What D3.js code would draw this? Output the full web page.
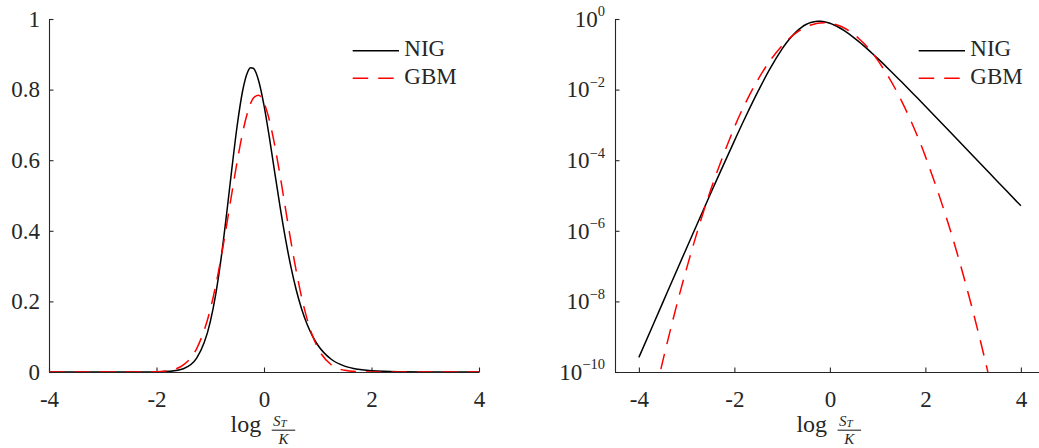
<!DOCTYPE html>
<html><head><meta charset="utf-8">
<script src="https://cdn.jsdelivr.net/npm/d3@7"></script>
<style>
html,body{margin:0;padding:0;background:#fff;}
svg{display:block;font-family:'Liberation Serif','Times New Roman',serif;}
</style></head><body>
<svg id="chart" width="1039" height="448"></svg>
<script>
// x: log(S_T/K)
const logReturn = [-4, -3.5, -3, -2.5, -2, -1.75, -1.5, -1.25, -1, -0.9, -0.8, -0.7, -0.6, -0.5, -0.4, -0.3, -0.25, -0.2, -0.1, 0, 0.1, 0.2, 0.3, 0.4, 0.5, 0.6, 0.7, 0.8, 0.9, 1, 1.25, 1.5, 1.75, 2, 2.5, 3, 3.5, 4];
const nigDensity = [2.59e-10, 9.25e-9, 3.27e-7, 1.12e-5, 3.54e-4, 1.876e-3, 9.19e-3, 0.0398, 0.1419, 0.2188, 0.3200, 0.4419, 0.5731, 0.6969, 0.7946, 0.8512, 0.8618, 0.8604, 0.8251, 0.7553, 0.6644, 0.5650, 0.4670, 0.3770, 0.2984, 0.2324, 0.1786, 0.1358, 0.1023, 0.0765, 0.0361, 0.0166, 7.53e-3, 3.38e-3, 6.70e-4, 1.318e-4, 2.59e-5, 5.09e-6];
const gbmDensity = [1.82e-13, 2.03e-10, 8.63e-8, 1.393e-5, 8.55e-4, 4.66e-3, 0.01995, 0.0670, 0.1769, 0.2436, 0.3229, 0.4116, 0.5049, 0.5957, 0.6762, 0.7384, 0.7606, 0.7758, 0.7841, 0.7624, 0.7132, 0.6418, 0.5556, 0.4627, 0.3708, 0.2858, 0.2119, 0.1512, 0.1038, 0.0685, 0.0205, 4.81e-3, 8.87e-4, 1.284e-4, 1.302e-6, 5.02e-9, 7.34e-12, 4.08e-15];
const seriesNames = ["NIG", "GBM"];
const xTicks = [-4, -2, 0, 2, 4];
const xTickLabels = ["-4", "-2", "0", "2", "4"];
const yTicksLinear = [0, 0.2, 0.4, 0.6, 0.8, 1];
const yTickLinearLabels = ["0", "0.2", "0.4", "0.6", "0.8", "1"];
const yTicksLog = [1e-10, 1e-8, 1e-6, 1e-4, 1e-2, 1];
const yTickLogExponents = ["\u221210", "\u22128", "\u22126", "\u22124", "\u22122", "0"];

const nigData = logReturn.map((x, i) => ({x, y: nigDensity[i]}));
const gbmData = logReturn.map((x, i) => ({x, y: gbmDensity[i]}));

const svg = d3.select("#chart");
const ink = "#262626";
const fs = 23;

function styleAxis(g) {
  g.attr("font-family", null).attr("font-size", null);
  g.select(".domain").attr("stroke", ink).attr("stroke-width", 1.1);
  g.selectAll(".tick line").attr("stroke", ink).attr("stroke-width", 1.1);
  g.selectAll(".tick text").attr("fill", ink).attr("font-size", fs);
}

function drawPanel(p) {
  const {x, y, curve, clipId, logY} = p;
  const root = svg.append("g");
  const [x0, x1] = x.range();
  const [yb, yt] = y.range();

  // axes
  const gx = root.append("g").attr("transform", `translate(0,${yb})`)
    .call(d3.axisBottom(x).tickValues(xTicks).tickFormat((d, i) => xTickLabels[i])
      .tickSizeInner(-4.5).tickSizeOuter(0).tickPadding(19));
  styleAxis(gx);

  const yAxis = d3.axisLeft(y).tickValues(logY ? yTicksLog : yTicksLinear)
    .tickSizeInner(-4.5).tickSizeOuter(0).tickPadding(logY ? 10 : 9)
    .tickFormat((d, i) => logY ? "10" : yTickLinearLabels[i]);
  const gy = root.append("g").attr("transform", `translate(${x0},0)`).call(yAxis);
  styleAxis(gy);
  if (logY) {
    gy.selectAll(".tick text").each(function(d) {
      const t = d3.select(this);
      const i = yTicksLog.indexOf(d);
      t.text(null);
      t.append("tspan").text("10");
      t.append("tspan").attr("dy", -10.4).attr("font-size", 14.5).text(yTickLogExponents[i]);
    });
  }

  // clip
  svg.append("defs").append("clipPath").attr("id", clipId)
    .append("rect").attr("x", x0).attr("y", yt - 2).attr("width", x1 - x0).attr("height", yb - yt + 2);

  const line = d3.line().x(d => x(d.x)).y(d => y(d.y)).curve(curve);
  const lines = root.append("g").attr("clip-path", `url(#${clipId})`);
  lines.append("path").datum(nigData).attr("d", line)
    .attr("fill", "none").attr("stroke", "#000").attr("stroke-width", 1.5);
  lines.append("path").datum(gbmData).attr("d", line)
    .attr("fill", "none").attr("stroke", "#ff0000").attr("stroke-width", 1.5)
    .attr("stroke-dasharray", "15.5,10");

  // legend
  const lg = root.append("g").attr("transform", `translate(${x0 + 303.7},0)`);
  const legendRows = [
    {name: seriesNames[0], color: "#000", dash: null, ly: 50.7, ty: 56},
    {name: seriesNames[1], color: "#ff0000", dash: "15.5,10", ly: 78.3, ty: 84.3}
  ];
  legendRows.forEach(r => {
    lg.append("line").attr("x1", 0).attr("x2", 46.3).attr("y1", r.ly).attr("y2", r.ly)
      .attr("stroke", r.color).attr("stroke-width", 1.5).attr("stroke-dasharray", r.dash);
    lg.append("text").attr("x", 51.6).attr("y", r.ty).attr("fill", ink)
      .attr("font-size", fs).text(r.name);
  });

  // x-axis title: log S_T / K
  const cx = x(0);
  const tg = root.append("g").attr("fill", ink);
  tg.append("text").attr("x", cx - 33.5).attr("y", 432).attr("font-size", 24).text("log");
  tg.append("line").attr("x1", cx + 7.7).attr("x2", cx + 31.2).attr("y1", 430.2).attr("y2", 430.2)
    .attr("stroke", ink).attr("stroke-width", 1.1);
  const num = tg.append("text").attr("x", cx + 9).attr("y", 425.6).attr("font-size", 15).attr("font-style", "italic");
  num.append("tspan").text("S");
  num.append("tspan").attr("font-size", 11).attr("dy", 1.4).text("T");
  tg.append("text").attr("x", cx + 19.5).attr("y", 443.6).attr("text-anchor", "middle")
    .attr("font-size", 15).attr("font-style", "italic").text("K");
}

drawPanel({
  x: d3.scaleLinear().domain([-4, 4]).range([49, 479]),
  y: d3.scaleLinear().domain([0, 1]).range([372, 19]),
  curve: d3.curveMonotoneX, clipId: "clipL", logY: false
});
drawPanel({
  x: d3.scaleLinear().domain([-4.5, 4.5]).range([615, 1044.75]),
  y: d3.scaleLog().domain([1e-10, 1]).range([372, 19]),
  curve: d3.curveCatmullRom.alpha(0.5), clipId: "clipR", logY: true
});
</script>
</body></html>
